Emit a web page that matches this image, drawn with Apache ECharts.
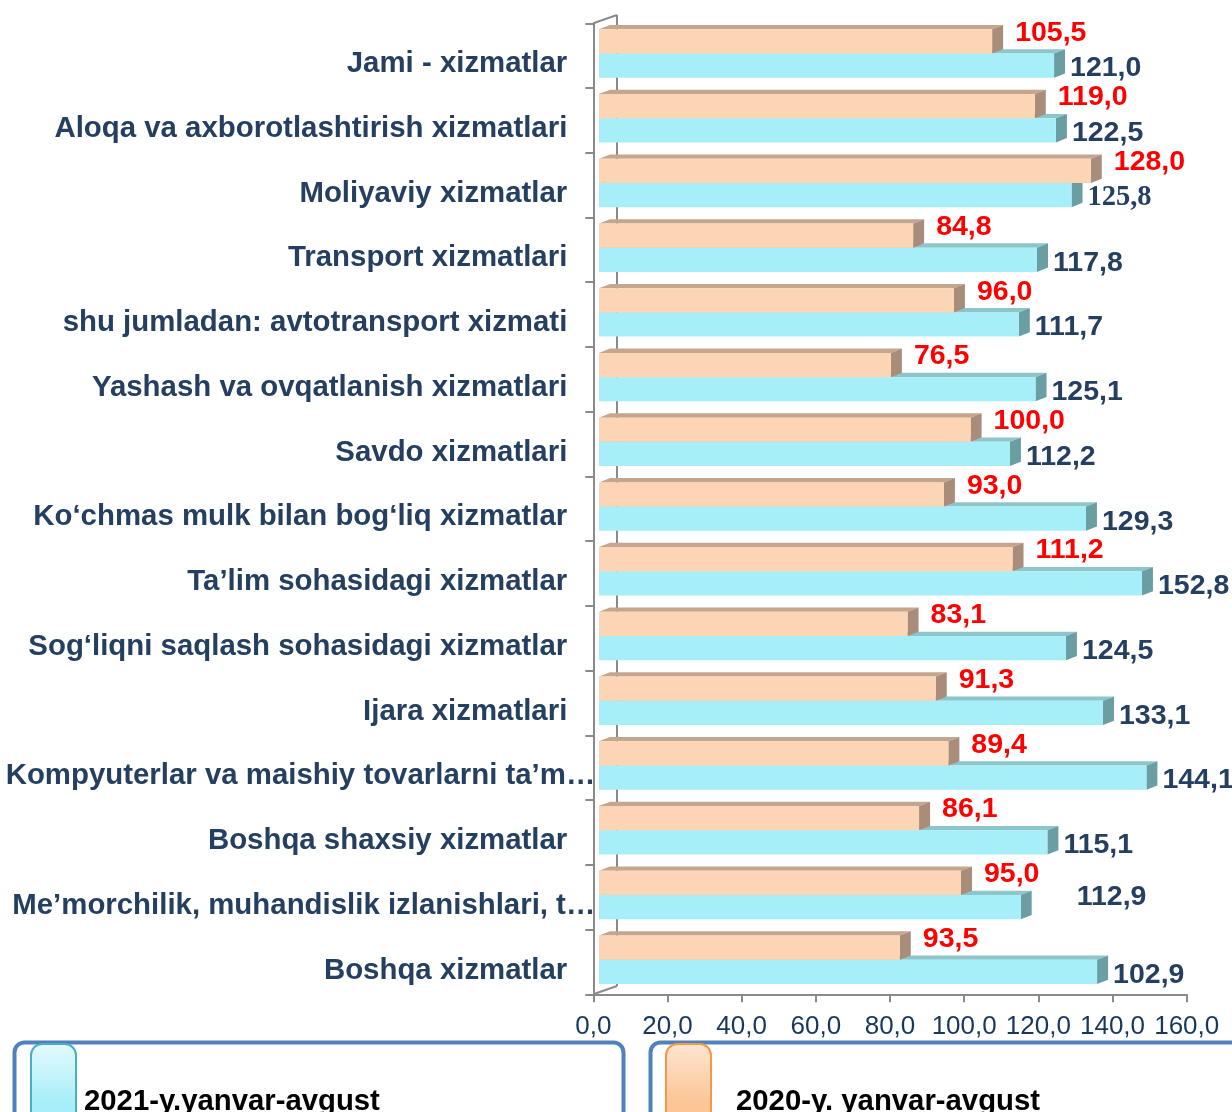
<!DOCTYPE html>
<head>
    <meta charset="utf-8"/>
    <style>
        html, body {
            margin: 0;
            padding: 0;
            background-color: #fff;
        }
        #main {
            width: 1232px;
            height: 1112px;
        }
    </style>
    <script src="https://cdn.jsdelivr.net/npm/echarts@6.0.0/dist/echarts.min.js"></script>
</head>
<body>
<div id="main"></div>
<script type="text/javascript">
// categories, top to bottom
var categories = [
    'Jami - xizmatlar',
    'Aloqa va axborotlashtirish xizmatlari',
    'Moliyaviy xizmatlar',
    'Transport xizmatlari',
    'shu jumladan: avtotransport xizmati',
    'Yashash va ovqatlanish xizmatlari',
    'Savdo xizmatlari',
    'Ko‘chmas mulk bilan bog‘liq xizmatlar',
    'Ta’lim sohasidagi xizmatlar',
    'Sog‘liqni saqlash sohasidagi xizmatlar',
    'Ijara xizmatlari',
    'Kompyuterlar va maishiy tovarlarni ta’m…',
    'Boshqa shaxsiy xizmatlar',
    'Me’morchilik, muhandislik izlanishlari, t…',
    'Boshqa xizmatlar'
];
// bar lengths as drawn in the picture
var bars2021 = [122.7, 123.2, 127.4, 118.1, 113.2, 117.7, 110.8, 131.3, 146.4, 125.9, 135.9, 147.6, 120.9, 113.7, 134.3];
var bars2020 = [106.0, 117.5, 132.6, 84.7, 95.7, 78.7, 100.2, 93.0, 111.5, 83.2, 90.8, 94.2, 86.3, 97.6, 81.1];
// numbers printed next to the bars
var labels2021 = [121.0, 122.5, 125.8, 117.8, 111.7, 125.1, 112.2, 129.3, 152.8, 124.5, 133.1, 144.1, 115.1, 112.9, 102.9];
var labels2020 = [105.5, 119.0, 128.0, 84.8, 96.0, 76.5, 100.0, 93.0, 111.2, 83.1, 91.3, 89.4, 86.1, 95.0, 93.5];
var xTicks = [0, 20, 40, 60, 80, 100, 120, 140, 160];

var name2021 = '2021-y.yanvar-avgust';
var name2020 = '2020-y. yanvar-avgust';

var FONT = '"Liberation Sans", Arial, sans-serif';
var GRAY = '#8a8a8a';
var NAVY = '#243f60';

function fmt(v) {
    return v.toFixed(1).replace('.', ',');
}

// 3d-ish bar: front face, top face, right side, plus value label
function makeBar(c, labels, upper) {
    return function (params, api) {
        var i = params.dataIndex;
        var cat = api.value(1);
        var p0 = api.coord([0, cat]);
        var p1 = api.coord([api.value(0), cat]);
        var band = api.size([0, 1])[1];
        var h = band * 0.374;
        var mid = p0[1] - band * 0.034;
        var yTop = upper ? mid - h : mid;
        var yBot = yTop + h;
        var x0 = p0[0] + 5.7, x1 = p1[0] + 5.7;
        var dx = 11, dy = 4.3;

        var lx, ly, font = FONT;
        if (upper) {
            lx = x1 + dx + 12;
            ly = yTop + 3.5;
        } else {
            lx = x1 + dx + 5;
            ly = (yTop + yBot) / 2 + 3;
            if (i === 13) { lx += 40; ly -= 13; }     // that one sits off to the side
            if (i === 2) { font = '"Liberation Serif", "Times New Roman", serif'; }
        }

        return {
            type: 'group',
            children: [
                {
                    type: 'polygon',
                    shape: {points: [[x0, yTop], [x0 + dx, yTop - dy], [x1 + dx, yTop - dy], [x1, yTop]]},
                    style: {fill: c.top}
                },
                {
                    type: 'polygon',
                    shape: {points: [[x1, yTop], [x1 + dx, yTop - dy], [x1 + dx, yBot - dy], [x1, yBot]]},
                    style: {fill: c.side}
                },
                {
                    type: 'rect',
                    shape: {x: x0, y: yTop, width: x1 - x0, height: h},
                    style: {fill: c.front}
                },
                {
                    type: 'text',
                    x: lx,
                    y: ly,
                    style: {
                        text: fmt(labels[i]),
                        fill: c.label,
                        fontSize: 28.5,
                        fontWeight: 'bold',
                        fontFamily: font,
                        align: 'left',
                        verticalAlign: 'middle'
                    }
                }
            ]
        };
    };
}

// back wall edges of the 3d plot
function drawWalls(params, api) {
    var cs = params.coordSys;
    var bx = 23.7, by = 8.3;
    var line = {stroke: GRAY, lineWidth: 2};
    return {
        type: 'group',
        children: [
            {type: 'line', shape: {x1: cs.x + bx, y1: cs.y - by, x2: cs.x + bx, y2: cs.y + cs.height - by}, style: line},
            {type: 'line', shape: {x1: cs.x, y1: cs.y, x2: cs.x + bx, y2: cs.y - by}, style: line},
            {type: 'line', shape: {x1: cs.x, y1: cs.y + cs.height, x2: cs.x + bx, y2: cs.y + cs.height - by}, style: line}
        ]
    };
}

var myChart = echarts.init(document.getElementById('main'));

var options = {
    animation: false,
    grid: {
        left: 593.3,
        top: 23.3,
        width: 593.4,
        height: 971
    },
    xAxis: {
        type: 'value',
        min: xTicks[0],
        max: xTicks[xTicks.length - 1],
        interval: xTicks[1] - xTicks[0],
        splitLine: {show: false},
        axisLine: {show: true, lineStyle: {color: GRAY, width: 2}},
        axisTick: {show: true, length: 8, lineStyle: {color: GRAY, width: 2}},
        axisLabel: {
            margin: 20,
            color: '#17375e',
            fontSize: 26,
            fontFamily: FONT,
            formatter: function (v) { return fmt(v); }
        }
    },
    yAxis: {
        type: 'category',
        inverse: true,
        data: categories,
        axisLine: {show: true, lineStyle: {color: GRAY, width: 2}},
        axisTick: {show: true, length: 8, interval: 0, lineStyle: {color: GRAY, width: 2}},
        axisLabel: {
            interval: 0,
            margin: -2,
            formatter: function (v) {
                return v.indexOf('…') >= 0 ? '{l|' + v + '}' : '{n|' + v + '}';
            },
            rich: {
                n: {fontSize: 29.4, fontWeight: 'bold', color: NAVY, fontFamily: FONT, padding: [17, 28, 0, 0]},
                l: {fontSize: 29.4, fontWeight: 'bold', color: NAVY, fontFamily: FONT, padding: [17, 0, 0, 0]}
            }
        }
    },
    legend: [
        {
            left: 30, top: 1043, padding: 0,
            itemWidth: 45, itemHeight: 116,
            icon: 'roundRect',
            textStyle: {fontSize: 29.3, fontWeight: 'bold', color: '#000', fontFamily: FONT, padding: [0, 0, 0, 3]},
            data: [{
                name: name2021,
                itemStyle: {
                    color: new echarts.graphic.LinearGradient(0, 0, 0, 1, [
                        {offset: 0, color: '#e4fafd'}, {offset: 0.5, color: '#a8eef8'}, {offset: 1, color: '#a8eef8'}
                    ]),
                    borderColor: '#4bacc6', borderWidth: 2
                }
            }]
        },
        {
            left: 665, top: 1043, padding: 0,
            itemWidth: 45, itemHeight: 116,
            icon: 'roundRect',
            textStyle: {fontSize: 29.3, fontWeight: 'bold', color: '#000', fontFamily: FONT, padding: [0, 0, 0, 20]},
            data: [{
                name: name2020,
                itemStyle: {
                    color: new echarts.graphic.LinearGradient(0, 0, 0, 1, [
                        {offset: 0, color: '#fde6d2'}, {offset: 0.5, color: '#fbc596'}, {offset: 1, color: '#fbc596'}
                    ]),
                    borderColor: '#f79646', borderWidth: 2
                }
            }]
        }
    ],
    graphic: [
        {type: 'rect', left: 12, top: 1040, z: -1, shape: {width: 609, height: 110, r: 10},
            style: {fill: 'none', stroke: '#4f81bd', lineWidth: 4}},
        {type: 'rect', left: 648, top: 1040, z: -1, shape: {width: 610, height: 110, r: 10},
            style: {fill: 'none', stroke: '#4f81bd', lineWidth: 4}}
    ],
    series: [
        {
            type: 'custom',
            name: 'walls',
            silent: true,
            renderItem: drawWalls,
            data: [[0, 0]],
            encode: {x: 0, y: 1}
        },
        {
            type: 'custom',
            name: name2021,
            renderItem: makeBar({front: '#a6eff8', top: '#8cc6cb', side: '#6b9ea2', label: NAVY}, labels2021, false),
            data: bars2021.map(function (v, i) { return [v, i]; }),
            encode: {x: 0, y: 1}
        },
        {
            type: 'custom',
            name: name2020,
            renderItem: makeBar({front: '#fcd5b5', top: '#c4a68f', side: '#a98c79', label: '#ff0000'}, labels2020, true),
            data: bars2020.map(function (v, i) { return [v, i]; }),
            encode: {x: 0, y: 1}
        }
    ]
};

myChart.setOption(options);
</script>
</body>
